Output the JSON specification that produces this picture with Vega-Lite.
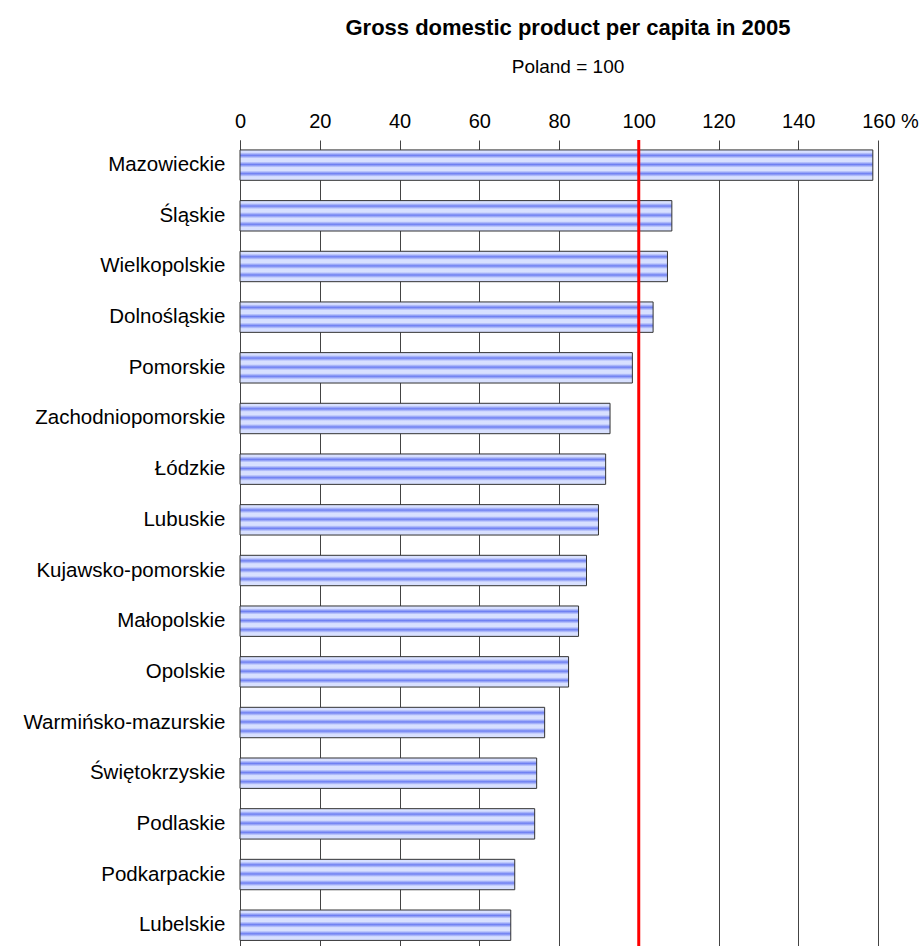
{
  "$schema": "https://vega.github.io/schema/vega-lite/v6.json",
  "autosize": {"type": "none"},
  "padding": {"left": 240, "top": 140, "right": 45, "bottom": 0},
  "width": 638,
  "height": 806,
  "background": "white",
  "title": {
    "text": "Gross domestic product per capita in 2005",
    "subtitle": "Poland = 100",
    "anchor": "middle",
    "frame": "group",
    "font": "Liberation Sans",
    "fontSize": 22,
    "fontWeight": "bold",
    "color": "black",
    "subtitleFont": "Liberation Sans",
    "subtitleFontSize": 19,
    "subtitleColor": "black",
    "subtitlePadding": 18,
    "offset": 33,
    "dx": 9
  },
  "config": {
    "view": {"stroke": null},
    "font": "Liberation Sans"
  },
  "layer": [
    {
      "data": {
        "values": [
          {"region": "Mazowieckie", "value": 158.7},
          {"region": "Śląskie", "value": 108.3},
          {"region": "Wielkopolskie", "value": 107.2},
          {"region": "Dolnośląskie", "value": 103.6},
          {"region": "Pomorskie", "value": 98.4},
          {"region": "Zachodniopomorskie", "value": 92.8},
          {"region": "Łódzkie", "value": 91.7},
          {"region": "Lubuskie", "value": 89.9},
          {"region": "Kujawsko-pomorskie", "value": 86.9},
          {"region": "Małopolskie", "value": 84.9},
          {"region": "Opolskie", "value": 82.4},
          {"region": "Warmińsko-mazurskie", "value": 76.4},
          {"region": "Świętokrzyskie", "value": 74.4},
          {"region": "Podlaskie", "value": 73.9},
          {"region": "Podkarpackie", "value": 68.9},
          {"region": "Lubelskie", "value": 67.9}
        ]
      },
      "mark": {
        "type": "bar",
        "stroke": "#333333",
        "strokeWidth": 1,
        "fill": {
          "gradient": "linear",
          "x1": 0, "y1": 0, "x2": 0, "y2": 1,
          "stops": [
            {"offset": 0, "color": "#d8e0ff"},
            {"offset": 0.08, "color": "#d8e0ff"},
            {"offset": 0.18, "color": "#6e7ff2"},
            {"offset": 0.28, "color": "#d8e0ff"},
            {"offset": 0.38, "color": "#d8e0ff"},
            {"offset": 0.48, "color": "#6e7ff2"},
            {"offset": 0.58, "color": "#d8e0ff"},
            {"offset": 0.68, "color": "#d8e0ff"},
            {"offset": 0.78, "color": "#6e7ff2"},
            {"offset": 0.88, "color": "#d8e0ff"},
            {"offset": 1, "color": "#d8e0ff"}
          ]
        }
      },
      "encoding": {
        "y": {
          "field": "region",
          "type": "nominal",
          "sort": null,
          "scale": {"paddingInner": 0.4, "paddingOuter": 0.153, "align": 0.64},
          "axis": {
            "title": null,
            "ticks": false,
            "domain": true,
            "domainColor": "#444444",
            "domainWidth": 1,
            "labelFont": "Liberation Sans",
            "labelFontSize": 20.5,
            "labelColor": "black",
            "labelPadding": 15,
            "labelLimit": 300
          }
        },
        "x": {
          "field": "value",
          "type": "quantitative",
          "scale": {"domain": [0, 160], "nice": false},
          "axis": {
            "orient": "top",
            "title": null,
            "values": [0, 20, 40, 60, 80, 100, 120, 140, 160],
            "domain": false,
            "ticks": false,
            "grid": true,
            "gridColor": "#444444",
            "gridWidth": 1,
            "gridOpacity": 1,
            "labelFont": "Liberation Sans",
            "labelFontSize": 20,
            "labelColor": "black",
            "labelPadding": 9,
            "labelFlush": false,
            "labelOverlap": false,
            "labelExpr": "datum.value == 160 ? '160 %' : datum.label",
            "labelOffset": {"condition": {"test": "datum.value == 160", "value": 12}, "value": 0}
          }
        }
      }
    },
    {
      "data": {"values": [{"ref": 100}]},
      "mark": {"type": "rule", "color": "#ff0000", "strokeWidth": 3},
      "encoding": {
        "x": {"field": "ref", "type": "quantitative"}
      }
    }
  ]
}
